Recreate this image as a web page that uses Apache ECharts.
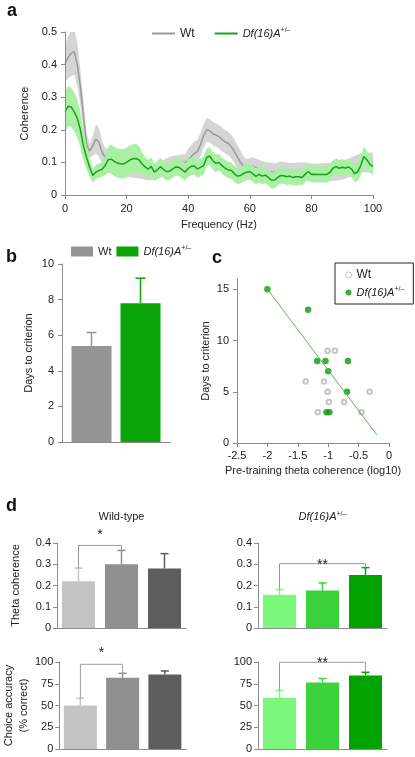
<!DOCTYPE html>
<html><head><meta charset="utf-8">
<script src="https://cdn.jsdelivr.net/npm/echarts@6/dist/echarts.min.js"></script>
<style>html,body{margin:0;padding:0;background:#fff}#c{width:415px;height:757px}</style>
</head><body><div id="c"></div>
<script>
// ---------- Panel a: coherence spectra ----------
const freqHz = [0,1,2,3,4,5,6,7,8,9,10,11,12,13,14,15,16,17,18,19,20,21,22,23,24,25,26,27,28,29,30,31,32,33,34,35,36,37,38,39,40,41,42,43,44,45,46,47,48,49,50,51,52,53,54,55,56,57,58,59,60,61,62,63,64,65,66,67,68,69,70,71,72,73,74,75,76,77,78,79,80,81,82,83,84,85,86,87,88,89,90,91,92,93,94,95,96,97,98,99,100];
const wtMean = [0.404,0.422,0.435,0.44,0.40,0.33,0.24,0.155,0.135,0.15,
  0.172,0.162,0.132,0.116,0.108,0.1,0.095,0.09,0.086,0.083,
  0.08,0.08,0.078,0.077,0.076,0.074,0.072,0.07,0.07,0.071,
  0.074,0.078,0.082,0.088,0.092,0.095,0.097,0.097,0.1,0.1,
  0.106,0.118,0.128,0.133,0.155,0.182,0.2,0.197,0.188,0.184,
  0.179,0.17,0.163,0.158,0.148,0.134,0.116,0.1,0.087,0.082,
  0.085,0.088,0.084,0.08,0.076,0.073,0.072,0.071,0.07,0.072,
  0.075,0.074,0.072,0.07,0.07,0.071,0.072,0.072,0.071,0.07,
  0.069,0.068,0.068,0.069,0.07,0.07,0.071,0.072,0.072,0.073,
  0.075,0.078,0.082,0.086,0.09,0.094,0.098,0.1,0.1,0.1,0.1];
const wtSem = [0.056,0.065,0.07,0.07,0.065,0.055,0.05,0.035,0.022,0.03,
  0.045,0.045,0.035,0.03,0.03,0.025,0.025,0.025,0.025,0.025,
  0.025,0.025,0.025,0.025,0.025,0.025,0.025,0.025,0.025,0.025,
  0.025,0.025,0.025,0.025,0.025,0.025,0.025,0.025,0.025,0.025,
  0.036,0.036,0.036,0.036,0.036,0.036,0.036,0.036,0.036,0.036,
  0.036,0.036,0.036,0.036,0.036,0.036,0.036,0.036,0.03,0.028,
  0.028,0.028,0.028,0.028,0.028,0.028,0.028,0.028,0.028,0.028,
  0.028,0.028,0.028,0.028,0.028,0.028,0.028,0.028,0.028,0.028,
  0.028,0.028,0.028,0.028,0.028,0.028,0.028,0.028,0.028,0.028,
  0.028,0.028,0.028,0.03,0.03,0.03,0.03,0.03,0.03,0.03,0.03];
const dfMean = [0.256,0.272,0.27,0.255,0.235,0.2,0.15,0.115,0.085,0.06,
  0.07,0.075,0.078,0.09,0.108,0.11,0.103,0.098,0.096,0.095,
  0.1,0.107,0.111,0.112,0.108,0.096,0.086,0.079,0.088,0.07,
  0.077,0.087,0.078,0.072,0.073,0.08,0.086,0.085,0.078,0.07,
  0.082,0.088,0.089,0.08,0.085,0.09,0.115,0.12,0.105,0.097,
  0.1,0.09,0.082,0.077,0.075,0.065,0.058,0.06,0.066,0.07,
  0.072,0.065,0.057,0.063,0.058,0.061,0.054,0.045,0.046,0.053,
  0.06,0.059,0.056,0.058,0.054,0.056,0.056,0.054,0.064,0.072,
  0.063,0.064,0.063,0.063,0.063,0.063,0.069,0.082,0.087,0.082,
  0.085,0.083,0.086,0.08,0.066,0.07,0.09,0.118,0.108,0.094,0.087];
const dfSem = [0.062,0.062,0.06,0.06,0.058,0.055,0.045,0.035,0.028,0.022,
  0.022,0.022,0.022,0.03,0.04,0.045,0.045,0.045,0.045,0.045,
  0.045,0.045,0.045,0.045,0.042,0.035,0.03,0.028,0.027,0.027,
  0.027,0.027,0.027,0.027,0.027,0.027,0.027,0.027,0.027,0.027,
  0.027,0.027,0.027,0.027,0.027,0.027,0.027,0.027,0.027,0.027,
  0.025,0.025,0.025,0.025,0.025,0.025,0.025,0.025,0.025,0.025,
  0.025,0.025,0.025,0.025,0.025,0.025,0.025,0.025,0.025,0.025,
  0.025,0.025,0.025,0.025,0.025,0.025,0.025,0.025,0.025,0.025,
  0.025,0.025,0.025,0.025,0.025,0.025,0.025,0.025,0.025,0.025,
  0.025,0.025,0.025,0.025,0.025,0.028,0.03,0.03,0.028,0.026,0.025];

// ---------- Panel b: days to criterion ----------
const daysCategory = ['Days to criterion'];
const daysMean = [5.4, 7.8];
const daysSem = [0.75, 1.4];

// ---------- Panel c: scatter ----------
const wtPoints = [[-1.01,9],[-0.89,9],[-1.37,6],[-1.07,6],[-1.01,5],[-0.32,5],[-0.99,4],[-0.74,4],[-1.17,3],[-0.45,3]];
const dfPoints = [[-2.0,15],[-1.33,13],[-1.18,8],[-1.045,8],[-0.675,8],[-1.0,7],[-0.69,5],[-1.03,3],[-0.98,3]];
const fitLine = [[-2.0,15],[-0.2,0.8]];
const scatterYTicks = [0,5,10,15];

// ---------- Panel d: training stages ----------
const stages = ['Stage 1','Stage 2','Stage 3'];
const wtTheta = [0.22, 0.30, 0.28];
const wtThetaSem = [0.062, 0.065, 0.07];
const dfTheta = [0.157, 0.176, 0.25];
const dfThetaSem = [0.024, 0.036, 0.034];
const wtAcc = [50, 82, 85.5];
const wtAccSem = [8.3, 5, 4.2];
const dfAcc = [58.8, 76.4, 84.4];
const dfAccSem = [8.4, 4.6, 3.8];
const wtThetaSig = [0, 1, '*'];
const dfThetaSig = [0, 2, '**'];
const wtAccSig = [0, 1, '*'];
const dfAccSig = [0, 2, '**'];

// ---------- styling ----------
const FONT = 'Liberation Sans';
const AXC = '#8c8c8c';
const TXT = '#222';
const wtGreys = ['#c4c4c4', '#8f8f8f', '#5d5d5d'];
const dfGreens = ['#7bf77b', '#3bd23b', '#00a300'];
const supRich = {
  i: {fontStyle:'italic', fontSize:11, fontFamily:FONT, color:TXT},
  s: {fontSize:7, fontFamily:FONT, color:TXT, verticalAlign:'top', lineHeight:13}
};
const DF_LABEL = '{i|Df(16)A}{s|+/–}';
const legendNames = {aWt:'Wt', aDf:DF_LABEL, bWt:'Wt', bDf:DF_LABEL, cWt:'Wt', cDf:DF_LABEL};

function axisBase(extra) {
  const base = {
    axisLine: {show:true, onZero:false, lineStyle:{color:AXC, width:1}},
    axisTick: {show:true, length:4, lineStyle:{color:AXC, width:1}},
    axisLabel: {color:TXT, fontSize:11, fontFamily:FONT, margin:6},
    splitLine: {show:false},
    nameTextStyle: {color:TXT, fontSize:11, fontFamily:FONT},
    nameLocation: 'middle'
  };
  for (const k in extra) {
    if (base[k] && typeof base[k] === 'object' && typeof extra[k] === 'object' && !Array.isArray(extra[k])) base[k] = Object.assign({}, base[k], extra[k]);
    else base[k] = extra[k];
  }
  return base;
}
function catAxis(gi, data) {
  return axisBase({gridIndex:gi, type:'category', data:data, axisLabel:{show:false}, axisTick:{show:false}});
}

function errRender(vals, sems, colors, capW, offsets) {
  return function(params, api) {
    const i = params.dataIndex;
    const cat = api.value(0);
    const p0 = api.coord([cat, vals[i]]);
    const p1 = api.coord([cat, vals[i] + sems[i]]);
    let dx = 0;
    if (offsets) {
      try {
        const lay = api.barLayout(offsets);
        dx = lay[i].offsetCenter;
      } catch (e) { dx = i === 0 ? -24.5 : 24.5; }
    }
    const x = p0[0] + dx;
    const c = colors[i];
    return {type:'group', children:[
      {type:'line', shape:{x1:x, y1:p0[1], x2:x, y2:p1[1]}, style:{stroke:c, lineWidth:1.5}},
      {type:'line', shape:{x1:x - capW/2, y1:p1[1], x2:x + capW/2, y2:p1[1]}, style:{stroke:c, lineWidth:1.5}}
    ]};
  };
}
function bracketRender(vals, sems, sig, liftPx, starLift) {
  return function(params, api) {
    const a = sig[0], b = sig[1];
    const pa = api.coord([a, vals[a] + sems[a]]);
    const pb = api.coord([b, vals[b] + sems[b]]);
    let top = Math.min(pa[1], pb[1]);
    for (let k = a; k <= b; k++) top = Math.min(top, api.coord([k, vals[k] + sems[k]])[1]);
    const yB = top - liftPx;
    return {type:'group', children:[
      {type:'polyline', shape:{points:[[pa[0], pa[1]], [pa[0], yB], [pb[0], yB], [pb[0], pb[1]]]}, style:{stroke:'#9a9a9a', fill:null, lineWidth:1}},
      {type:'text', style:{text:sig[2], x:(pa[0] + pb[0]) / 2, y:yB - starLift, align:'center', verticalAlign:'middle', font:'14px "Liberation Sans"', fill:TXT}}
    ]};
  };
}
function dSeries(gi, vals, sems, colors, sig, liftPx, starLift) {
  return [
    {type:'bar', xAxisIndex:gi, yAxisIndex:gi, barWidth:33, silent:true,
      data: vals.map((v, i) => ({value:v, itemStyle:{color:colors[i]}}))},
    {type:'custom', xAxisIndex:gi, yAxisIndex:gi, silent:true, z:3,
      data: vals.map((v, i) => [i, v]), renderItem: errRender(vals, sems, colors, 8)},
    {type:'custom', xAxisIndex:gi, yAxisIndex:gi, silent:true, z:4,
      data: [[sig[0], vals[sig[0]]]], renderItem: bracketRender(vals, sems, sig, liftPx, starLift)}
  ];
}
// SEM band drawn as one polygon through the axis scales
function bandSeries(mean, sem, color, z) {
  return {type:'custom', xAxisIndex:0, yAxisIndex:0, silent:true, clip:true, z:z,
    data: freqHz.map((f, i) => [f, mean[i] - sem[i], mean[i] + sem[i]]),
    encode: {x:0, y:[1, 2]},
    renderItem: function(params, api) {
      if (params.dataIndex !== 0) return null;
      const up = [], lo = [];
      for (let i = 0; i < freqHz.length; i++) {
        up.push(api.coord([freqHz[i], mean[i] + sem[i]]));
        lo.push(api.coord([freqHz[i], mean[i] - sem[i]]));
      }
      return {type:'polygon', shape:{points: up.concat(lo.reverse())}, style:{fill:color, stroke:null}};
    }};
}

const chart = echarts.init(document.getElementById('c'), null, {renderer:'canvas'});
const option = {
  animation: false,
  backgroundColor: '#fff',
  textStyle: {fontFamily:FONT, color:TXT},
  grid: [
    {left:65, top:32, width:308, height:163},
    {left:62, top:264, width:108, height:178},
    {left:237, top:279, width:152, height:164},
    {left:57, top:543, width:129, height:85},
    {left:258, top:543, width:129, height:85},
    {left:57, top:662, width:129, height:87},
    {left:258, top:662, width:129, height:87}
  ],
  xAxis: [
    axisBase({gridIndex:0, type:'value', min:0, max:100, interval:20, name:'Frequency (Hz)', nameGap:24, axisLabel:{margin:8}, z:10}),
    catAxis(1, daysCategory),
    axisBase({gridIndex:2, type:'value', min:-2.5, max:0, interval:0.5, name:'Pre-training theta coherence (log10)', nameGap:22, axisLabel:{margin:7}}),
    catAxis(3, stages), catAxis(4, stages), catAxis(5, stages), catAxis(6, stages)
  ],
  yAxis: [
    axisBase({gridIndex:0, type:'value', min:0, max:0.5, interval:0.1, name:'Coherence', nameRotate:90, nameGap:29, axisLabel:{margin:8}, z:10}),
    axisBase({gridIndex:1, type:'value', min:0, max:10, interval:2, name:'Days to criterion', nameRotate:90, nameGap:28, axisLabel:{margin:8}}),
    axisBase({gridIndex:2, type:'value', min:0, max:16, interval:5, name:'Days to criterion', nameRotate:90, nameGap:26,
      axisLabel:{margin:8, customValues:scatterYTicks}, axisTick:{customValues:scatterYTicks}}),
    axisBase({gridIndex:3, type:'value', min:0, max:0.4, interval:0.1, name:'Theta coherence', nameRotate:90, nameGap:36}),
    axisBase({gridIndex:4, type:'value', min:0, max:0.4, interval:0.1}),
    axisBase({gridIndex:5, type:'value', min:0, max:100, interval:25, name:'Choice accuracy\n(% correct)', nameRotate:90, nameGap:25,
      nameTextStyle:{lineHeight:15}}),
    axisBase({gridIndex:6, type:'value', min:0, max:100, interval:25})
  ],
  legend: [
    {left:147, top:22, itemWidth:23, itemHeight:2, itemGap:20, icon:'rect', selectedMode:false,
      formatter: n => legendNames[n], textStyle:{fontSize:12, color:TXT, fontFamily:FONT, rich:supRich},
      data:[{name:'aWt', itemStyle:{color:'#9a9a9a'}}, {name:'aDf', itemStyle:{color:'#1aa31a'}}]},
    {left:66, top:240, itemWidth:22, itemHeight:10, itemGap:5, icon:'rect', selectedMode:false,
      formatter: n => legendNames[n], textStyle:{fontSize:11, color:TXT, fontFamily:FONT, rich:supRich},
      data:[{name:'bWt', itemStyle:{color:'#959595'}}, {name:'bDf', itemStyle:{color:'#08a408'}}]},
    {left:335, top:263, orient:'vertical', itemWidth:6, itemHeight:6, itemGap:5, selectedMode:false,
      borderColor:'#222', borderWidth:1, padding:[6,9,6,10], backgroundColor:'#fff',
      formatter: n => legendNames[n], textStyle:{fontSize:12, color:TXT, fontFamily:FONT, rich:supRich},
      data:[{name:'cWt', icon:'circle', itemStyle:{color:'#fff', borderColor:'#b0b0b0', borderWidth:1}},
            {name:'cDf', icon:'circle', itemStyle:{color:'#0a9a0a'}}]}
  ],
  graphic: [
    {type:'text', x:7, y:11, style:{text:'a', font:'bold 18px "Liberation Sans"', fill:'#111', align:'left', verticalAlign:'middle'}},
    {type:'text', x:6, y:257, style:{text:'b', font:'bold 18px "Liberation Sans"', fill:'#111', align:'left', verticalAlign:'middle'}},
    {type:'text', x:212, y:258, style:{text:'c', font:'bold 18px "Liberation Sans"', fill:'#111', align:'left', verticalAlign:'middle'}},
    {type:'text', x:6, y:506, style:{text:'d', font:'bold 18px "Liberation Sans"', fill:'#111', align:'left', verticalAlign:'middle'}},
    {type:'text', x:121.5, y:517, style:{text:'Wild-type', font:'11px "Liberation Sans"', fill:TXT, align:'center', verticalAlign:'middle'}},
    {type:'text', x:322.5, y:517, style:{text:DF_LABEL, rich:supRich, fill:TXT, align:'center', verticalAlign:'middle', font:'11px "Liberation Sans"'}}
  ],
  series: [
    bandSeries(wtMean, wtSem, '#d5d5d5', 1),
    {name:'aWt', type:'line', xAxisIndex:0, yAxisIndex:0, symbol:'none', silent:true, z:2,
      lineStyle:{color:'#9a9a9a', width:1.5}, itemStyle:{color:'#9a9a9a'},
      data: freqHz.map((f, i) => [f, wtMean[i]])},
    bandSeries(dfMean, dfSem, '#aaf0a4', 3),
    {name:'aDf', type:'line', xAxisIndex:0, yAxisIndex:0, symbol:'none', silent:true, z:4,
      lineStyle:{color:'#1aa31a', width:1.5}, itemStyle:{color:'#1aa31a'},
      data: freqHz.map((f, i) => [f, dfMean[i]])},

    {name:'bWt', type:'bar', xAxisIndex:1, yAxisIndex:1, barWidth:40, barGap:'22.5%', silent:true,
      itemStyle:{color:'#959595'}, data:[daysMean[0]]},
    {name:'bDf', type:'bar', xAxisIndex:1, yAxisIndex:1, barWidth:40, barGap:'22.5%', silent:true,
      itemStyle:{color:'#08a408'}, data:[daysMean[1]]},
    {type:'custom', xAxisIndex:1, yAxisIndex:1, silent:true, z:3,
      data: daysMean.map(v => [0, v]),
      renderItem: errRender(daysMean, daysSem, ['#959595', '#08a408'], 10, {count:2, barWidth:40, barGap:'22.5%'})},

    {name:'cFit', type:'line', xAxisIndex:2, yAxisIndex:2, symbol:'none', silent:true,
      lineStyle:{color:'#4cbf4c', width:1}, data: fitLine},
    {name:'cWt', type:'scatter', xAxisIndex:2, yAxisIndex:2, symbol:'emptyCircle', symbolSize:4.5, silent:true,
      itemStyle:{color:'#b5b5b5', borderColor:'#b5b5b5', borderWidth:1}, data: wtPoints},
    {name:'cDf', type:'scatter', xAxisIndex:2, yAxisIndex:2, symbol:'circle', symbolSize:6.5, silent:true,
      itemStyle:{color:'#0a9a0a'}, data: dfPoints},

    ...dSeries(3, wtTheta, wtThetaSem, wtGreys, wtThetaSig, 5, 10),
    ...dSeries(4, dfTheta, dfThetaSem, dfGreens, dfThetaSig, 4, -1),
    ...dSeries(5, wtAcc, wtAccSem, wtGreys, wtAccSig, 9, 11),
    ...dSeries(6, dfAcc, dfAccSem, dfGreens, dfAccSig, 10, -1)
  ]
};
chart.setOption(option);
</script>
</body></html>
